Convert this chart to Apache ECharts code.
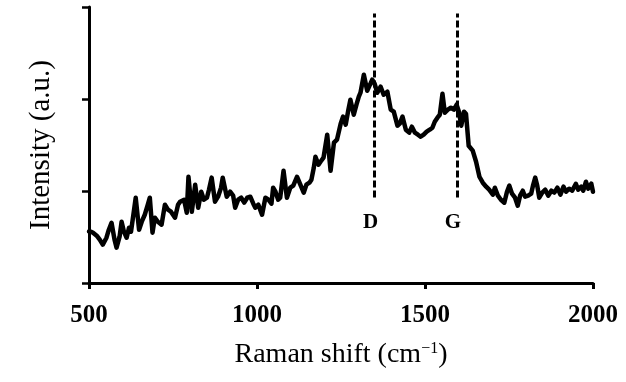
<!DOCTYPE html>
<html>
<head>
<meta charset="utf-8">
<script src="https://cdn.jsdelivr.net/npm/echarts@6/dist/echarts.min.js"></script>
<style>html,body{margin:0;padding:0;background:#fff;}#c{width:626px;height:382px;}</style>
</head>
<body>
<div id="c"></div>
<script>
// Raman shift (cm^-1)
const ramanShift = [500,506,512,523,532,541,552,559,567,576,582,591,597,604,612,619,625,630,639,649,657,666,675,681,689,696,705,716,726,735,744,756,765,771,783,791,796,806,816,825,834,842,851,857,865,875,884,893,898,910,920,929,935,944,953,962,971,980,989,995,1004,1015,1025,1034,1043,1048,1055,1063,1069,1079,1089,1099,1108,1119,1129,1139,1147,1156,1162,1169,1174,1183,1189,1198,1209,1219,1229,1238,1249,1256,1264,1272,1278,1288,1296,1303,1308,1318,1328,1335,1343,1350,1358,1368,1377,1388,1398,1407,1418,1425,1433,1443,1453,1461,1470,1479,1487,1496,1505,1514,1522,1529,1537,1544,1552,1559,1568,1577,1586,1594,1601,1608,1616,1622,1630,1642,1652,1662,1672,1682,1691,1702,1708,1717,1726,1736,1744,1751,1759,1768,1776,1783,1791,1798,1807,1816,1822,1828,1834,1840,1849,1858,1867,1876,1885,1894,1903,1912,1920,1929,1938,1949,1956,1965,1971,1979,1986,1995,2000];
// Intensity (a.u.)
const intensity = [0.56,0.558,0.547,0.514,0.471,0.417,0.492,0.579,0.655,0.471,0.384,0.503,0.666,0.558,0.492,0.601,0.558,0.688,0.927,0.579,0.666,0.742,0.851,0.927,0.547,0.710,0.666,0.634,0.851,0.797,0.775,0.710,0.851,0.884,0.905,0.764,1.155,0.775,1.068,0.818,0.992,0.905,0.927,1.014,1.145,0.884,0.938,1.036,1.145,0.938,0.992,0.949,0.818,0.905,0.927,0.873,0.927,0.938,0.862,0.818,0.851,0.742,0.927,0.905,0.862,1.036,0.992,0.905,0.927,1.221,0.927,1.036,1.058,1.155,1.068,0.982,1.068,1.090,1.123,1.253,1.373,1.286,1.318,1.362,1.612,1.221,1.525,1.558,1.732,1.808,1.721,1.884,1.992,1.829,1.938,2.025,2.068,2.264,2.090,2.145,2.210,2.166,2.068,2.134,2.047,2.079,1.884,1.862,1.710,1.732,1.808,1.666,1.634,1.699,1.634,1.612,1.590,1.612,1.645,1.666,1.688,1.753,1.797,1.829,2.058,1.851,1.884,1.905,1.884,1.938,1.862,1.710,1.862,1.840,1.492,1.438,1.318,1.155,1.090,1.047,1.014,0.960,1.036,0.949,0.905,0.873,0.992,1.058,0.971,0.927,0.840,0.949,1.003,0.938,0.949,0.971,1.068,1.145,1.058,0.927,0.982,1.014,0.949,1.003,0.982,1.036,0.960,1.047,0.992,1.025,1.003,1.079,1.014,1.047,1.003,1.101,1.025,1.079,0.992];
// Peak markers
const peakPositions = [1350, 1595];
const peakNames = ['D', 'G'];
const peakLineTop = 2.93;
const peakLineBottom = 0.93;
const peakLabelY = 0.66;
const xTicks = [500, 1000, 1500, 2000];

const serif = '"Liberation Serif", "Times New Roman", serif';
const chart = echarts.init(document.getElementById('c'), null, {renderer: 'canvas'});
const lineData = ramanShift.map((x, i) => [x, intensity[i]]);
chart.setOption({
  animation: false,
  backgroundColor: '#fff',
  grid: {left: 89, right: 33, top: 7, bottom: 99},
  xAxis: {
    type: 'value', min: xTicks[0], max: xTicks[xTicks.length - 1], interval: 500,
    axisLine: {lineStyle: {color: '#000', width: 3}},
    axisTick: {show: true, length: 6, lineStyle: {color: '#000', width: 3}},
    splitLine: {show: false},
    axisLabel: {color: '#000', fontFamily: serif, fontWeight: 'bold', fontSize: 25, margin: 20,
      formatter: v => String(v)},
    name: 'Raman shift (cm{sup|−1})',
    nameLocation: 'middle', nameGap: 58,
    nameTextStyle: {color: '#000', fontFamily: serif, fontSize: 28,
      rich: {sup: {fontSize: 16, verticalAlign: 'top', padding: [0,0,12,0], fontFamily: serif, color: '#000'}}}
  },
  yAxis: {
    type: 'value', min: 0, max: 3, interval: 1,
    axisLine: {show: true, lineStyle: {color: '#000', width: 3}},
    axisTick: {show: true, length: 7, lineStyle: {color: '#000', width: 2.5}},
    splitLine: {show: false},
    axisLabel: {show: false},
    name: 'Intensity (a.u.)',
    nameLocation: 'middle', nameGap: 33, nameRotate: 90,
    nameTextStyle: {color: '#000', fontFamily: serif, fontSize: 29}
  },
  series: [
    {
      type: 'line', data: lineData, showSymbol: false, symbol: 'none',
      lineStyle: {color: '#000', width: 4.5, join: 'round', cap: 'round'},
      emphasis: {disabled: true},
      markLine: {
        silent: true, symbol: 'none', animation: false,
        lineStyle: {color: '#000', width: 3, type: [7, 3]},
        label: {show: false},
        data: peakPositions.map(p => [{coord: [p, peakLineBottom]}, {coord: [p, peakLineTop]}])
      },
      z: 3
    },
    {
      type: 'scatter', symbolSize: 0,
      itemStyle: {color: '#000', opacity: 1},
      emphasis: {disabled: true},
      data: peakPositions.map((p, i) => [p, peakLabelY, peakNames[i]]),
      label: {show: true, position: 'inside', offset: [-4, 0], formatter: p => p.data[2],
        color: '#000', opacity: 1, textBorderWidth: 0, fontFamily: serif, fontWeight: 'bold', fontSize: 21},
      silent: true
    }
  ]
});
</script>
</body>
</html>
